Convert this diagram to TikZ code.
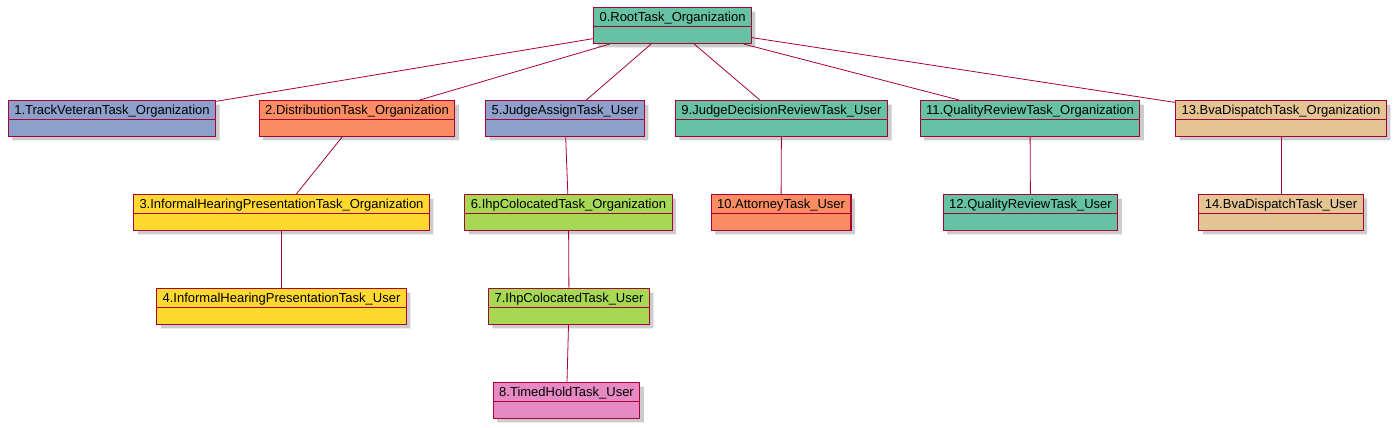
\documentclass[tikz,border=0pt]{standalone}
\usepackage{fontspec}
\setmainfont{Liberation Sans}
\usetikzlibrary{shapes.multipart,shadows}
\definecolor{umlred}{HTML}{A80036}
\definecolor{setgreen}{HTML}{66C2A5}
\definecolor{setorange}{HTML}{FC8D62}
\definecolor{setblue}{HTML}{8DA0CB}
\definecolor{setpink}{HTML}{E78AC3}
\definecolor{setlime}{HTML}{A6D854}
\definecolor{setyellow}{HTML}{FFD92F}
\definecolor{settan}{HTML}{E5C494}
\newcommand{\taskstrut}{\rule[-2pt]{0pt}{13pt}}
\tikzset{
    taskbox/.style={rectangle split, rectangle split parts=2, draw=umlred, line width=1.1pt,
        inner xsep=6pt, inner ysep=2pt, font=\fontsize{13}{15}\selectfont,
        rectangle split empty part height=9pt, rectangle split empty part depth=3pt,
        drop shadow={shadow xshift=4pt, shadow yshift=-4pt, fill=black!50, opacity=0.4}},
    link/.style={draw=umlred, line width=0.8pt}
}
\begin{document}
\begin{tikzpicture}[x=1pt,y=-1pt]
                    \useasboundingbox (0,0) rectangle (1397,428);
                    \node[taskbox, fill=setgreen] (root) at (672.5,25.5) {\taskstrut 0.RootTask\_Organization\nodepart{two}};
                    \node[taskbox, fill=setblue] (trackveteran) at (112,118.5) {\taskstrut 1.TrackVeteranTask\_Organization\nodepart{two}};
                    \node[taskbox, fill=setorange] (distribution) at (357,118.5) {\taskstrut 2.DistributionTask\_Organization\nodepart{two}};
                    \node[taskbox, fill=setblue] (judgeassign) at (565,118.5) {\taskstrut 5.JudgeAssignTask\_User\nodepart{two}};
                    \node[taskbox, fill=setgreen] (judgedecision) at (781.5,118.5) {\taskstrut 9.JudgeDecisionReviewTask\_User\nodepart{two}};
                    \node[taskbox, fill=setgreen] (qualityorg) at (1030,118.5) {\taskstrut 11.QualityReviewTask\_Organization\nodepart{two}};
                    \node[taskbox, fill=settan] (dispatchorg) at (1281,118.5) {\taskstrut 13.BvaDispatchTask\_Organization\nodepart{two}};
                    \node[taskbox, fill=setyellow] (ihporg) at (281.5,212.5) {\taskstrut 3.InformalHearingPresentationTask\_Organization\nodepart{two}};
                    \node[taskbox, fill=setlime] (colocatedorg) at (568.5,212.5) {\taskstrut 6.IhpColocatedTask\_Organization\nodepart{two}};
                    \node[taskbox, fill=setorange] (attorney) at (781,212.5) {\taskstrut 10.AttorneyTask\_User\nodepart{two}};
                    \node[taskbox, fill=setgreen] (qualityuser) at (1030.5,212.5) {\taskstrut 12.QualityReviewTask\_User\nodepart{two}};
                    \node[taskbox, fill=settan] (dispatchuser) at (1281,212.5) {\taskstrut 14.BvaDispatchTask\_User\nodepart{two}};
                    \node[taskbox, fill=setyellow] (ihpuser) at (281.5,306.5) {\taskstrut 4.InformalHearingPresentationTask\_User\nodepart{two}};
                    \node[taskbox, fill=setlime] (colocateduser) at (569,306.5) {\taskstrut 7.IhpColocatedTask\_User\nodepart{two}};
                    \node[taskbox, fill=setpink] (timedhold) at (566.5,400.5) {\taskstrut 8.TimedHoldTask\_User\nodepart{two}};
                    \draw[link] (root) -- (trackveteran);
                    \draw[link] (root) -- (distribution);
                    \draw[link] (root) -- (judgeassign);
                    \draw[link] (root) -- (judgedecision);
                    \draw[link] (root) -- (qualityorg);
                    \draw[link] (root) -- (dispatchorg);
                    \draw[link] (distribution) -- (ihporg);
                    \draw[link] (ihporg) -- (ihpuser);
                    \draw[link] (judgeassign) -- (colocatedorg);
                    \draw[link] (colocatedorg) -- (colocateduser);
                    \draw[link] (colocateduser) -- (timedhold);
                    \draw[link] (judgedecision) -- (attorney);
                    \draw[link] (qualityorg) -- (qualityuser);
                    \draw[link] (dispatchorg) -- (dispatchuser);
\end{tikzpicture}
\end{document}
